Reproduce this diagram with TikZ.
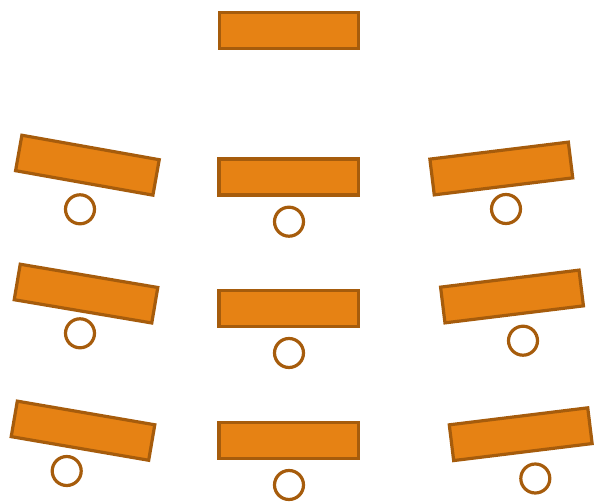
\documentclass[tikz,border=0pt]{standalone}
\definecolor{boxfill}{RGB}{230,130,20}
\definecolor{boxline}{RGB}{166,92,12}
\begin{document}
\begin{tikzpicture}[x=1pt,y=-1pt,
  plank/.style={draw=boxline,fill=boxfill,line width=3.2pt,minimum width=139.5pt,minimum height=36pt,inner sep=0pt,outer sep=0pt},
  ball/.style={draw=boxline,fill=white,line width=3.2pt,circle,minimum size=29pt,inner sep=0pt}]
\useasboundingbox (0,0) rectangle (596,502);
\node[plank] (top) at (289,30.5) {};
% row 1
\node[plank,rotate=-10.1] (p1l) at (87.4,165.2) {};
\node[ball] (b1l) at (80,209.3) {};
\node[plank] (p1m) at (288.7,177) {};
\node[ball] (b1m) at (289,221.7) {};
\node[plank,rotate=7] (p1r) at (501.3,168.5) {};
\node[ball] (b1r) at (506,209) {};
% row 2
\node[plank,rotate=-9.6] (p2l) at (86,293.6) {};
\node[ball] (b2l) at (80,333.3) {};
\node[plank] (p2m) at (288.7,308.5) {};
\node[ball] (b2m) at (289,353) {};
\node[plank,rotate=7] (p2r) at (512,296.5) {};
\node[ball] (b2r) at (523,340.7) {};
% row 3
\node[plank,rotate=-9.75] (p3l) at (83,430.7) {};
\node[ball] (b3l) at (66.7,471) {};
\node[plank] (p3m) at (288.7,440.5) {};
\node[ball] (b3m) at (289,485) {};
\node[plank,rotate=7] (p3r) at (520.7,434.2) {};
\node[ball] (b3r) at (535.3,478.5) {};
\end{tikzpicture}
\end{document}
